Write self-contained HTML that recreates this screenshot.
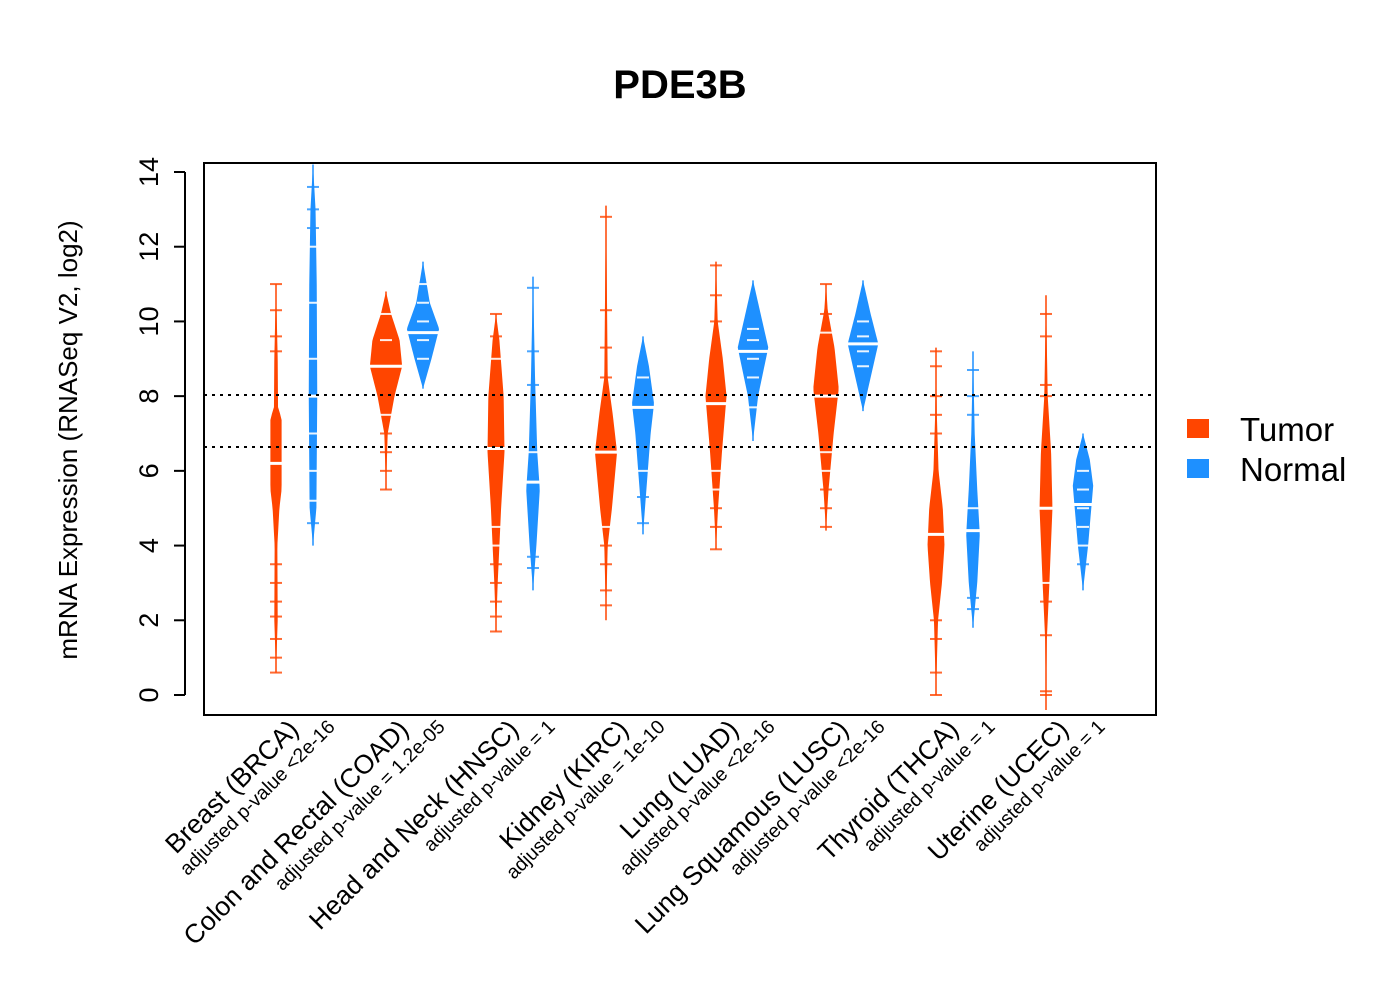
<!DOCTYPE html>
<html><head><meta charset="utf-8"><style>body{margin:0;background:#fff}svg{display:block;font-family:"Liberation Sans",Arial,sans-serif}</style></head>
<body>
<svg id="chart" width="1400" height="1000" viewBox="0 0 1400 1000">
<text x="680" y="98" text-anchor="middle" font-size="40" font-weight="bold">PDE3B</text>
<g id="beans"></g>
<line x1="204" x2="1156" y1="395" y2="395" stroke="#000" stroke-width="2" stroke-dasharray="3,5"/>
<line x1="204" x2="1156" y1="447" y2="447" stroke="#000" stroke-width="2" stroke-dasharray="3,5"/>
<rect x="204" y="163" width="952" height="552" fill="none" stroke="#000" stroke-width="2"/>
<g id="yaxis"></g>
<text transform="translate(77,440) rotate(-90)" text-anchor="middle" font-size="26">mRNA Expression (RNASeq V2, log2)</text>
<g id="xlabels"></g>
<g>
<rect x="1187" y="419" width="22" height="19" fill="#FF4500"/>
<text x="1240" y="441" font-size="33">Tumor</text>
<rect x="1187" y="459" width="22" height="19" fill="#1E90FF"/>
<text x="1240" y="481" font-size="33">Normal</text>
</g>
</svg>
<script>
const categories=["Breast (BRCA)","Colon and Rectal (COAD)","Head and Neck (HNSC)","Kidney (KIRC)","Lung (LUAD)","Lung Squamous (LUSC)","Thyroid (THCA)","Uterine (UCEC)"];
const pvalues=["adjusted p-value <2e-16","adjusted p-value = 1.2e-05","adjusted p-value = 1","adjusted p-value = 1e-10","adjusted p-value <2e-16","adjusted p-value <2e-16","adjusted p-value = 1","adjusted p-value = 1"];
const yTicks=[0,2,4,6,8,10,12,14];
const tumorMedian=[6.2,8.8,6.6,6.5,7.8,8.0,4.3,5.0];
const normalMedian=[8.0,9.7,5.7,7.7,9.2,9.4,4.4,5.1];
// density profiles: [value, relative density]
const tumorProfile=[
 [[0.6,0],[2,0.1],[4,0.08],[5,0.2],[5.5,0.33],[7.4,0.33],[7.7,0.12],[9,0.1],[11,0]],
 [[5.5,0],[7,0.1],[8,0.5],[8.8,0.95],[9.5,0.8],[10.2,0.3],[10.8,0]],
 [[1.7,0],[3,0.1],[5,0.3],[6.5,0.5],[8,0.45],[9.5,0.2],[10.2,0]],
 [[2,0],[4,0.1],[5,0.35],[6.5,0.65],[7.5,0.4],[8.5,0.1],[11,0.05],[13.1,0]],
 [[3.9,0],[5,0.12],[6.5,0.35],[8,0.62],[9,0.4],[10,0.1],[11.6,0]],
 [[4.4,0],[5.5,0.15],[7,0.45],[8.2,0.75],[9.3,0.5],[10.3,0.1],[11,0]],
 [[0,0],[2,0.12],[3,0.35],[4,0.5],[5,0.4],[6,0.15],[7.5,0.05],[9.3,0]],
 [[-0.4,0],[1.5,0.05],[3,0.2],[5,0.38],[6.5,0.3],[8,0.1],[10.7,0]]];
const normalProfile=[
 [[4,0],[5,0.2],[8,0.25],[11,0.22],[13,0.15],[14.2,0]],
 [[8.2,0],[9,0.5],[9.8,0.95],[10.5,0.4],[11.6,0]],
 [[2.8,0],[4,0.2],[5.5,0.4],[6.5,0.25],[8.5,0.12],[11.2,0]],
 [[4.3,0],[5.5,0.2],[7,0.45],[7.8,0.65],[8.8,0.35],[9.6,0]],
 [[6.8,0],[8,0.3],[9.3,0.9],[10.2,0.45],[11.1,0]],
 [[7.6,0],[8.5,0.45],[9.4,0.9],[10.2,0.45],[11.1,0]],
 [[1.8,0],[3,0.25],[4.3,0.4],[5.5,0.25],[7,0.1],[9.2,0]],
 [[2.8,0],[4,0.3],[5.6,0.6],[6.3,0.4],[7,0]]];
const tumorPoints=[[0.6,1,1.5,2.1,2.5,3,3.5,9.2,9.6,10.3,11],[5.5,6,6.5,7,7.5,9.5,10.2],[1.7,2.1,2.5,3,3.5,4,4.5,9,9.6,10.2],[2.4,2.8,3.5,4,4.5,8.5,9.3,10.3,12.8],[3.9,4.5,5,5.5,6,10,10.7,11.5],[4.5,5,5.5,6,6.5,9.7,10.2,11],[0,0.6,1.5,2,7,7.5,8,8.8,9.2],[0,0.1,1.6,2.5,3,8,8.3,9.6,10.2]];
const normalPoints=[[4.6,5.2,6,7,9,10.5,12,12.5,13,13.6],[9,9.5,10,10.5,11],[3.4,3.7,6.5,8.3,9.2,10.9],[4.6,5.3,6,8.5],[7.7,8.5,9,9.5,9.8],[8.8,9.2,9.6,10],[2.3,2.6,5,7.5,8,8.7],[3.5,4,4.5,5,5.5,6]];
const NS="http://www.w3.org/2000/svg";
const yv=v=>695-(v)*(695-172)/14;
const xg=i=>294+i*110;
const W=17;
function mk(t,a){const e=document.createElementNS(NS,t);for(const k in a)e.setAttribute(k,a[k]);return e;}
function interp(p,v){for(let i=0;i<p.length-1;i++){if(v>=p[i][0]&&v<=p[i+1][0]){const f=(v-p[i][0])/(p[i+1][0]-p[i][0]);return p[i][1]+f*(p[i+1][1]-p[i][1]);}}return 0;}
const beans=document.getElementById('beans');
function drawBean(i,cx,prof,med,pts,col,kind){
 const g=mk('g',{});
 
 
 const lo=prof[0][0],hi=prof[prof.length-1][0];
 g.appendChild(mk('line',{x1:cx,x2:cx,y1:yv(lo),y2:yv(hi),stroke:col,'stroke-width':1.5}));
 let L=[],R=[];
 for(let k=0;k<=60;k++){const v=lo+(hi-lo)*k/60;const w=interp(prof,v)*W;L.push((cx-w)+','+yv(v));R.unshift((cx+w)+','+yv(v));}
 const poly=mk('polygon',{points:L.concat(R).join(' '),fill:col});
 
 
 g.appendChild(poly);
 pts.forEach(v=>{const w=interp(prof,v)*W;const inside=w>3;
  g.appendChild(mk('line',{x1:cx-6,x2:cx+6,y1:yv(v),y2:yv(v),stroke:inside?'#fff':col,'stroke-width':2,'stroke-opacity':inside?0.9:0.8}));});
 const mw=Math.max(interp(prof,med)*W,8)+2;
 const m=mk('line',{x1:cx-mw,x2:cx+mw,y1:yv(med),y2:yv(med),stroke:'#fff','stroke-width':3});
 
 
 g.appendChild(m);
 beans.appendChild(g);
}
categories.forEach((c,i)=>{
 drawBean(i,xg(i)-18,tumorProfile[i],tumorMedian[i],tumorPoints[i],'#FF4500','tumor');
 drawBean(i,xg(i)+19,normalProfile[i],normalMedian[i],normalPoints[i],'#1E90FF','normal');
});
const ya=document.getElementById('yaxis');
ya.appendChild(mk('line',{x1:185,x2:185,y1:yv(0),y2:yv(14),stroke:'#000','stroke-width':2}));
yTicks.forEach(t=>{
 ya.appendChild(mk('line',{x1:174,x2:185,y1:yv(t),y2:yv(t),stroke:'#000','stroke-width':2}));
 const tx=mk('text',{transform:'translate(158,'+yv(t)+') rotate(-90)','text-anchor':'middle','font-size':27});
 
 
 tx.textContent=t;ya.appendChild(tx);
});
const xl=document.getElementById('xlabels');
categories.forEach((c,i)=>{
 const t=mk('text',{transform:'translate('+(xg(i)+6)+',731) rotate(-45)','text-anchor':'end','font-size':26.5});
 
 
 t.textContent=c;xl.appendChild(t);
 const p=mk('text',{transform:'translate('+(xg(i)+42)+',728) rotate(-45)','text-anchor':'end','font-size':19.5});
 
 
 p.textContent=pvalues[i];xl.appendChild(p);
});
</script>
</body></html>
